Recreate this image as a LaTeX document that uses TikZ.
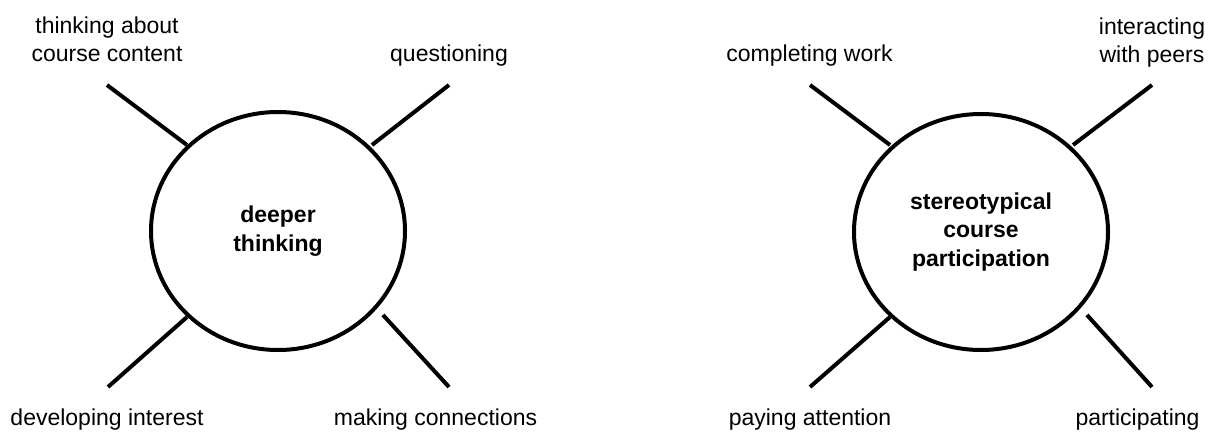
\documentclass[tikz,border=0pt]{standalone}
\usepackage{fontspec}
\setmainfont{Liberation Sans}
\usetikzlibrary{shapes.geometric}
\begin{document}
\begin{tikzpicture}[x=1pt,y=-1pt,
  hub/.style={ellipse, draw, line width=4pt, inner sep=0pt,
    minimum width=254pt, font=\fontsize{23}{28.5}\selectfont\bfseries, align=center},
  spoke/.style={line width=4pt},
  lbl/.style={font=\fontsize{23}{28}\selectfont, align=center, inner sep=0pt, anchor=base}]
\useasboundingbox (0,0) rectangle (1215,431);

% left hub
\node[hub, minimum height=238pt] (deep) at (278,231) {deeper\\thinking};
\coordinate (d1o) at (107,85);  \coordinate (d1i) at (187,145);
\coordinate (d2o) at (449,85);  \coordinate (d2i) at (372,145);
\coordinate (d3o) at (108,387); \coordinate (d3i) at (187,317);
\coordinate (d4o) at (449,387); \coordinate (d4i) at (383,315);
\draw[spoke] (d1o) -- (d1i);
\draw[spoke] (d2o) -- (d2i);
\draw[spoke] (d3o) -- (d3i);
\draw[spoke] (d4o) -- (d4i);
% base anchor of a two-line label sits on its last line
\node[lbl] (dl1) at (107,61) {thinking about\\course content};
\node[lbl] (dl2) at (449,61) {questioning};
\node[lbl] (dl3) at (107,425) {developing interest};
\node[lbl] (dl4) at (435.5,425) {making connections};

% right hub
\node[hub, minimum height=236pt] (stereo) at (981,232) {stereotypical\\course\\participation};
\coordinate (s1o) at (810,85);  \coordinate (s1i) at (890,145);
\coordinate (s2o) at (1152,85); \coordinate (s2i) at (1073,145);
\coordinate (s3o) at (810,387); \coordinate (s3i) at (890,317);
\coordinate (s4o) at (1152,387);\coordinate (s4i) at (1087,315);
\draw[spoke] (s1o) -- (s1i);
\draw[spoke] (s2o) -- (s2i);
\draw[spoke] (s3o) -- (s3i);
\draw[spoke] (s4o) -- (s4i);
\node[lbl] (sl1) at (809.5,61) {completing work};
\node[lbl] (sl2) at (1152,62) {interacting\\with peers};
\node[lbl] (sl3) at (810,425) {paying attention};
\node[lbl] (sl4) at (1137.5,425) {participating};
\end{tikzpicture}
\end{document}
